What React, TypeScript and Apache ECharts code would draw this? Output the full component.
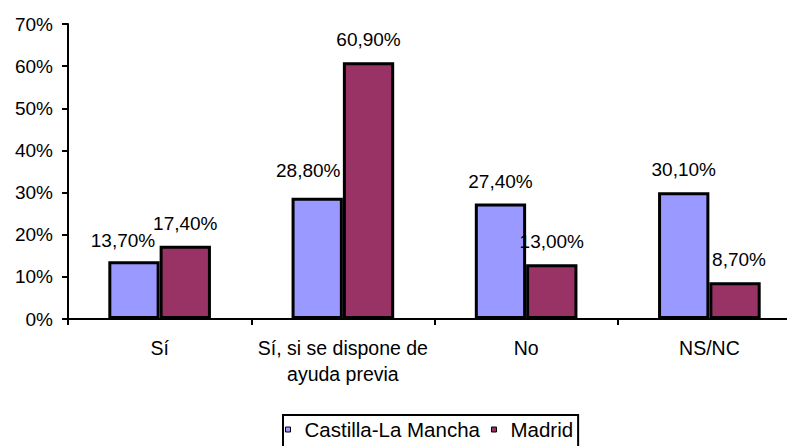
import React, { useEffect, useRef } from "react";
import * as echarts from "echarts";

const categories = ["Sí", "Sí, si se dispone de\nayuda previa", "No", "NS/NC"];
const seriesNames = ["Castilla-La Mancha", "Madrid"];
const castilla = [13.7, 28.8, 27.4, 30.1];
const madrid = [17.4, 60.9, 13.0, 8.7];
const yTicks = [0, 10, 20, 30, 40, 50, 60, 70];

// manual label shifts (as in the original chart), [dx, dy] in px
const castillaLabelShift = [[-11, 2], [-9, -5], [0, 0], [0, 0]];
const madridLabelShift = [[0, 0], [0, 0], [0, 0], [4, 0]];

const FONT = "'Liberation Sans', Arial, sans-serif";

export default function App() {
  const ref = useRef<HTMLDivElement>(null);
  useEffect(() => {
    document.body.style.margin = "0";
    const chart = echarts.init(ref.current!, null, { renderer: "svg" });
    const fmt = (p: any) => Number(p.value).toFixed(2).replace(".", ",") + "%";
    const labelStyle = {
      show: true,
      position: "top",
      distance: 13,
      formatter: fmt,
      color: "#000",
      fontSize: 19,
      fontFamily: FONT,
    };
    const build = (vals: number[], shifts: number[][]) =>
      vals.map((v, i) => ({ value: v, label: { offset: shifts[i] } }));
    chart.setOption({
      animation: false,
      backgroundColor: "#fff",
      textStyle: { fontFamily: FONT },
      grid: {
        left: 68,
        top: 24,
        width: 733,
        bottom: 127,
        containLabel: false,
        outerBoundsMode: "none",
      },
      xAxis: {
        type: "category",
        data: categories,
        axisLine: { lineStyle: { color: "#000", width: 2 } },
        axisTick: { show: true, length: 6, lineStyle: { color: "#000", width: 2 } },
        axisLabel: {
          interval: 0,
          color: "#000",
          fontSize: 19.5,
          fontFamily: FONT,
          margin: 16,
          lineHeight: 26,
        },
      },
      yAxis: {
        type: "value",
        min: yTicks[0],
        max: yTicks[yTicks.length - 1],
        interval: 10,
        axisLine: { show: true, lineStyle: { color: "#000", width: 2 } },
        axisTick: { show: true, length: 6, lineStyle: { color: "#000", width: 2 } },
        splitLine: { show: false },
        axisLabel: {
          color: "#000",
          fontSize: 19,
          fontFamily: FONT,
          margin: 15,
          formatter: (v: number) => v + "%",
        },
      },
      legend: {
        left: 283,
        top: 415,
        padding: [4, 5, 12, 2],
        borderColor: "#000",
        borderWidth: 2,
        itemGap: 11,
        itemWidth: 5,
        itemHeight: 5,
        icon: "rect",
        itemStyle: { borderWidth: 1, borderColor: "#000" },
        textStyle: {
          color: "#000",
          fontSize: 20.5,
          fontFamily: FONT,
          padding: [0, 0, 0, 9],
        },
        data: seriesNames,
      },
      series: [
        {
          name: seriesNames[0],
          type: "bar",
          data: build(castilla, castillaLabelShift),
          barGap: "0%",
          barCategoryGap: "44%",
          itemStyle: { color: "#9999FF", borderColor: "#000", borderWidth: 3 },
          label: labelStyle,
        },
        {
          name: seriesNames[1],
          type: "bar",
          data: build(madrid, madridLabelShift),
          barGap: "0%",
          barCategoryGap: "44%",
          itemStyle: { color: "#993366", borderColor: "#000", borderWidth: 3 },
          label: labelStyle,
        },
      ],
    });
    return () => chart.dispose();
  }, []);
  return (
    <div
      ref={ref}
      style={{ position: "fixed", left: 0, top: 0, width: 787, height: 446 }}
    />
  );
}
